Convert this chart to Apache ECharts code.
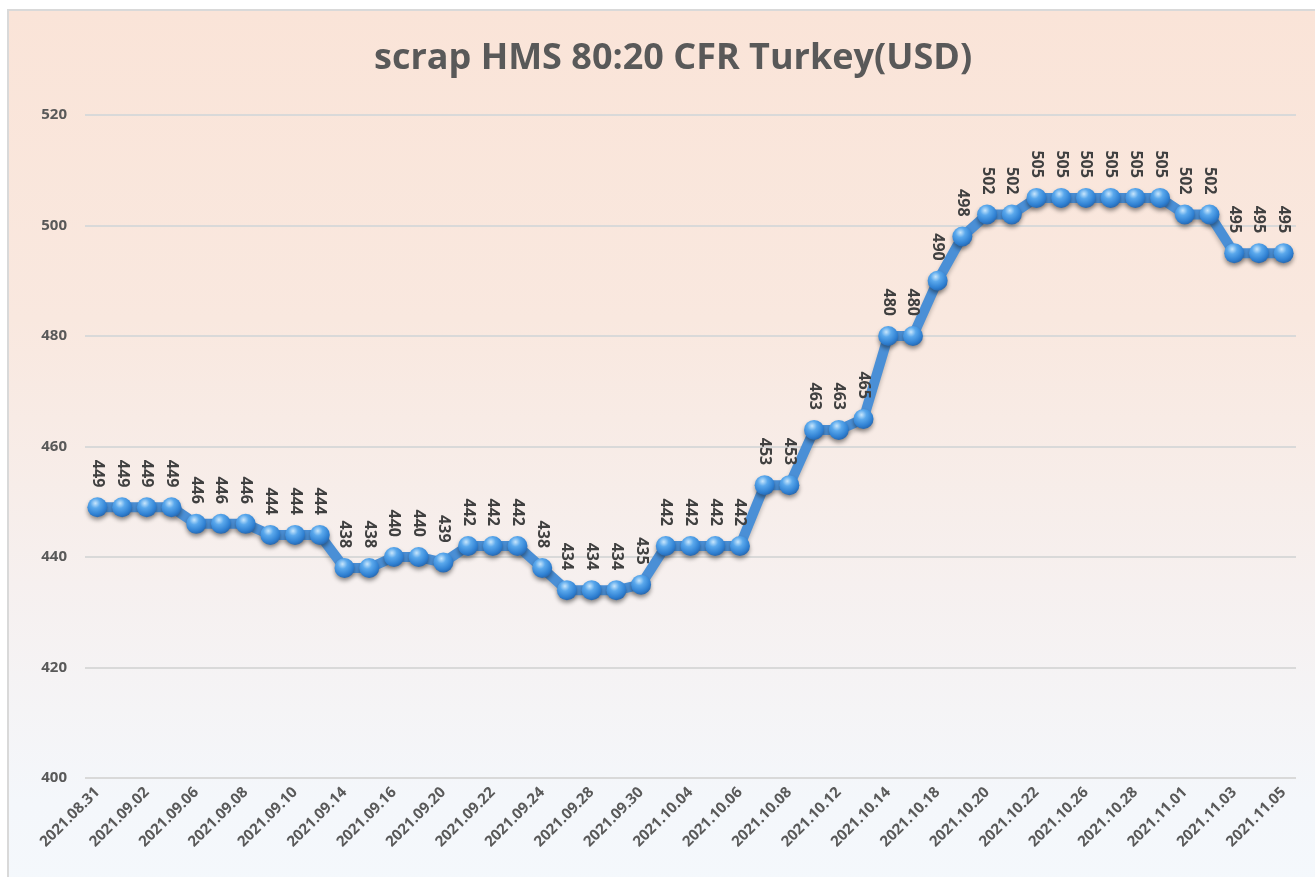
<!DOCTYPE html>
<html>
<head>
<meta charset="utf-8">
<script src="https://cdn.jsdelivr.net/npm/echarts@6/dist/echarts.min.js"></script>
<style>
  html, body { margin: 0; padding: 0; background: #fff; overflow: hidden; }
  #frame {
    position: absolute; left: 7px; top: 9px; width: 1320px; height: 880px;
    border: 2px solid #d9d9d9;
    background: linear-gradient(to bottom, #fae4d8 0%, #f9e8df 35%, #f6f0ef 65%, #f4f7fb 90%, #f4f8fc 100%);
  }
  #chart { position: absolute; left: 0; top: 0; width: 1315px; height: 877px; }
</style>
</head>
<body>
<div id="frame"></div>
<div id="chart"></div>
<script>
const dates = [
  '2021.08.31', '2021.09.01', '2021.09.02', '2021.09.03', '2021.09.06', '2021.09.07', '2021.09.08',
  '2021.09.09', '2021.09.10', '2021.09.13', '2021.09.14', '2021.09.15', '2021.09.16', '2021.09.17',
  '2021.09.20', '2021.09.21', '2021.09.22', '2021.09.23', '2021.09.24', '2021.09.27', '2021.09.28',
  '2021.09.29', '2021.09.30', '2021.10.01', '2021.10.04', '2021.10.05', '2021.10.06', '2021.10.07',
  '2021.10.08', '2021.10.11', '2021.10.12', '2021.10.13', '2021.10.14', '2021.10.15', '2021.10.18',
  '2021.10.19', '2021.10.20', '2021.10.21', '2021.10.22', '2021.10.25', '2021.10.26', '2021.10.27',
  '2021.10.28', '2021.10.29', '2021.11.01', '2021.11.02', '2021.11.03', '2021.11.04', '2021.11.05'
];

const prices = [
  449, 449, 449, 449, 446, 446, 446,
  444, 444, 444, 438, 438, 440, 440,
  439, 442, 442, 442, 438, 434, 434,
  434, 435, 442, 442, 442, 442, 453,
  453, 463, 463, 465, 480, 480, 490,
  498, 502, 502, 505, 505, 505, 505,
  505, 505, 502, 502, 495, 495, 495
];

const chart = echarts.init(document.getElementById('chart'));

const font = '"Open Sans", "Liberation Sans", sans-serif';

const option = {
  backgroundColor: 'transparent',
  title: {
    text: 'scrap HMS 80:20 CFR Turkey(USD)',
    left: 369,
    top: 36,
    textStyle: {
      fontFamily: font,
      fontSize: 36,
      fontWeight: 'bold',
      color: '#595959'
    }
  },
  grid: {
    left: 85,
    right: 19,
    top: 115,
    bottom: 99
  },
  xAxis: {
    type: 'category',
    data: dates,
    boundaryGap: true,
    axisLine: { show: false },
    axisTick: { show: false },
    axisLabel: {
      interval: 1,
      rotate: 45,
      margin: 12,
      fontFamily: font,
      fontSize: 15,
      fontWeight: 'bold',
      color: '#595959'
    }
  },
  yAxis: {
    type: 'value',
    min: 400,
    max: 520,
    interval: 20,
    axisLine: { show: false },
    axisTick: { show: false },
    axisLabel: {
      margin: 18,
      fontFamily: font,
      fontSize: 15,
      fontWeight: 'bold',
      color: '#595959'
    },
    splitLine: {
      lineStyle: { color: '#d9d9d9', width: 2 }
    }
  },
  series: [
    {
      name: 'scrap HMS 80:20 CFR Turkey',
      type: 'line',
      data: prices,
      symbol: 'circle',
      symbolSize: 20,
      showSymbol: true,
      showAllSymbol: true,
      lineStyle: {
        color: '#4a8fd6',
        width: 10,
        shadowColor: 'rgba(0,0,0,0.25)',
        shadowBlur: 4,
        shadowOffsetY: 3
      },
      itemStyle: {
        color: new echarts.graphic.RadialGradient(0.4, 0.3, 0.7, [
          { offset: 0, color: '#c8e6fc' },
          { offset: 0.35, color: '#5aa8ec' },
          { offset: 0.8, color: '#2f80d2' },
          { offset: 1, color: '#286ab3' }
        ]),
        borderWidth: 0,
        shadowColor: 'rgba(0,0,0,0.4)',
        shadowBlur: 4,
        shadowOffsetY: 3
      },
      label: {
        show: true,
        position: 'top',
        distance: 10,
        rotate: -90,
        align: 'right',
        verticalAlign: 'middle',
        fontFamily: font,
        fontSize: 16,
        fontWeight: 'bold',
        color: '#404040'
      },
      emphasis: { disabled: true },
      z: 3
    }
  ]
};

chart.setOption(option);
</script>
</body>
</html>
